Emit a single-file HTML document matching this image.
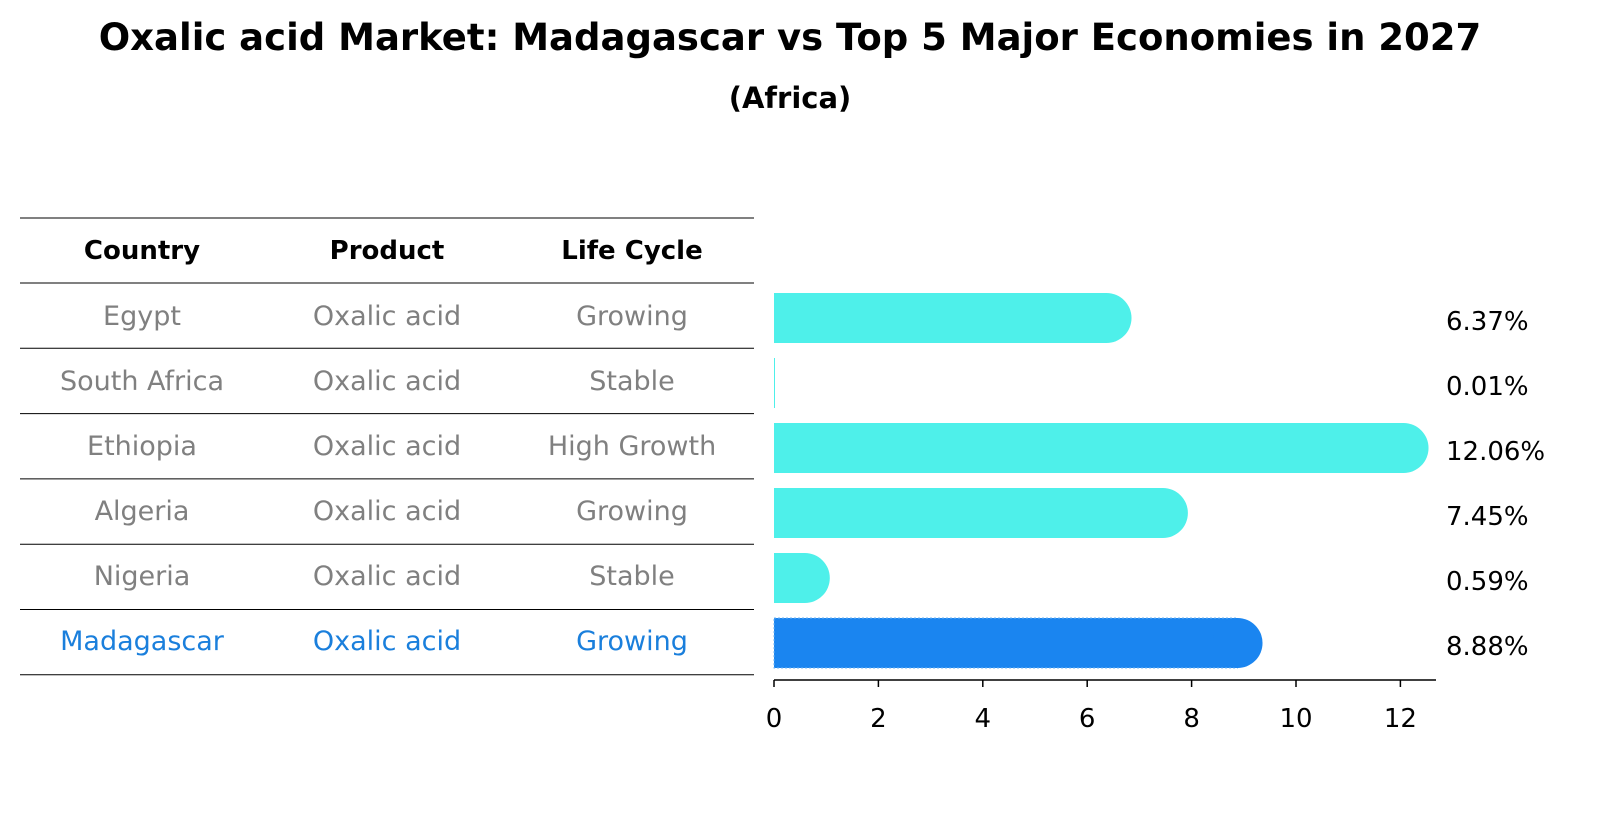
<!DOCTYPE html>
<html><head><meta charset="utf-8"><style>
body{margin:0;background:#fff;}
svg{display:block;font-family:"DejaVu Sans","Liberation Sans",sans-serif;}
</style></head><body>
<svg id="chart" width="1604" height="823" viewBox="0 0 1604 823">
<text x="790" y="50" text-anchor="middle" font-size="37" font-weight="bold">Oxalic acid Market: Madagascar vs Top 5 Major Economies in 2027</text>
<text x="790" y="108" text-anchor="middle" font-size="29" font-weight="bold">(Africa)</text>
<g id="table"></g>
<g id="bars"></g>
</svg>
<script>
const countries=["Egypt","South Africa","Ethiopia","Algeria","Nigeria","Madagascar"];
const products=["Oxalic acid","Oxalic acid","Oxalic acid","Oxalic acid","Oxalic acid","Oxalic acid"];
const lifeCycles=["Growing","Stable","High Growth","Growing","Stable","Growing"];
const values=[6.37,0.01,12.06,7.45,0.59,8.88];
const labels=["6.37%","0.01%","12.06%","7.45%","0.59%","8.88%"];
const ticks=[0,2,4,6,8,10,12];
const NS="http://www.w3.org/2000/svg";
function mk(tag,attrs,parent){const e=document.createElementNS(NS,tag);for(const k in attrs)e.setAttribute(k,attrs[k]);parent.appendChild(e);return e;}
const x=v=>774+v*52.2;
const rowY=i=>315+i*65;
const tbl=document.getElementById('table');
const lineYs=[218,283];for(let i=0;i<6;i++)lineYs.push(283+(i+1)*65.3);
lineYs.forEach((y,i)=>{const l=mk('line',{x1:20,x2:754,y1:y,y2:y,stroke:'#000','stroke-width':1},tbl);
});
const cx=[142,387,632];
["Country","Product","Life Cycle"].forEach((h,j)=>{const t=mk('text',{x:cx[j],y:259,'text-anchor':'middle','font-size':26,'font-weight':'bold'},tbl);t.textContent=h;
});
countries.forEach((c,i)=>{const col=i===5?'#1a7fdc':'#808080';const y=rowY(i)+10;
[c,products[i],lifeCycles[i]].forEach((s,j)=>{const t=mk('text',{x:cx[j],y:y,'text-anchor':'middle','font-size':27,fill:col},tbl);t.textContent=s;
});});
const g=document.getElementById('bars');
values.forEach((v,i)=>{const cy=rowY(i)+3;const col=i===5?'#1a85f0':'#4ef0ea';
const r=mk('rect',{x:774,y:cy-25,width:Math.max(x(v)-774,1),height:50,fill:col},g);
if(i===5){r.setAttribute('stroke','#6fb4f5');r.setAttribute('stroke-dasharray','2,2');r.setAttribute('stroke-width','1');}

if(v>0.05){const c=mk('circle',{cx:x(v),cy:cy,r:25,fill:col},g);
}
const t=mk('text',{x:1446,y:cy+12,'font-size':26},g);t.textContent=labels[i];
});
const ax=mk('line',{x1:774,x2:1436,y1:680,y2:680,stroke:'#000','stroke-width':1.5},g);

ticks.forEach(tv=>{const l=mk('line',{x1:x(tv),x2:x(tv),y1:680,y2:687,stroke:'#000','stroke-width':1.5},g);

const t=mk('text',{x:x(tv),y:727,'text-anchor':'middle','font-size':26},g);t.textContent=tv;
});
</script>
</body></html>
